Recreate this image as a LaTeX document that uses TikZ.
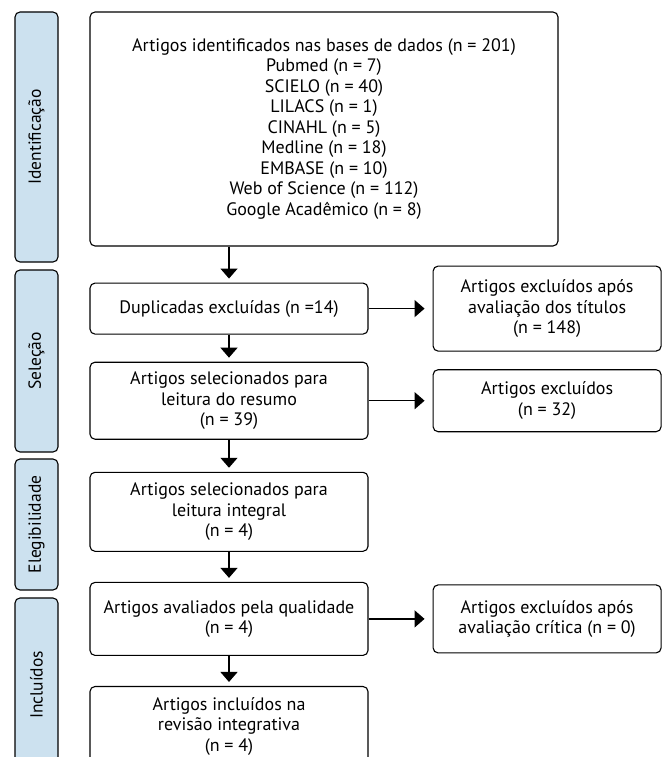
\documentclass[tikz,border=0pt]{standalone}
\usepackage{fontspec}
\setmainfont{PT Sans}
\usetikzlibrary{positioning,arrows.meta}
\definecolor{fasebg}{RGB}{204,225,239}

\begin{document}
\begin{tikzpicture}[x=1pt,y=-1pt,node distance=30pt,
   box/.style={draw, rounded corners=5pt, line width=1.1pt, align=center,
     inner sep=0pt, minimum width=278pt, font=\fontsize{18}{20.5}\selectfont},
   excl/.style={box, minimum width=228pt},
   fase/.style={draw, fill=fasebg, rounded corners=5pt, line width=1.1pt,
     rotate=90, minimum height=43pt, inner sep=0pt, font=\fontsize{17.5}{20}\selectfont},
   seta/.style={-{Triangle[width=17pt,length=10pt]}, line width=1.5pt, shorten >=4pt}]
   \useasboundingbox (0,0) rectangle (662,757);

   % fases
   \node[fase, minimum width=250pt] (ident) at (36.5,137)   {Identificação};
   \node[fase, minimum width=182pt] (selec) at (36.5,361)   {Seleção};
   \node[fase, minimum width=131pt] (elegi) at (36.5,524.5) {Elegibilidade};
   \node[fase, minimum width=174pt] (inclu) at (36.5,685)   {Incluídos};

   % coluna principal
   \node[box, minimum width=468pt, minimum height=234pt] (bases) at (324,129)
     {Artigos identificados nas bases de dados (n = 201)\\ Pubmed (n = 7)\\
      SCIELO (n = 40)\\ LILACS (n = 1)\\ CINAHL (n = 5)\\ Medline (n = 18)\\
      EMBASE (n = 10)\\ Web of Science (n = 112)\\ Google Acadêmico (n = 8)};
   \node[box, minimum height=51pt, below=36pt of bases.south west, anchor=north west] (dup)
     {Duplicadas excluídas (n =14)};
   \node[box, minimum height=77pt, below=27pt of dup] (resumo)
     {Artigos selecionados para\\ leitura do resumo\\ (n = 39)};
   \node[box, minimum height=79pt, below=32pt of resumo] (integral)
     {Artigos selecionados para\\ leitura integral\\ (n = 4)};
   \node[box, minimum height=73pt, below=of integral] (qualid)
     {Artigos avaliados pela qualidade\\ (n = 4)};
   \node[box, minimum height=79pt, below=of qualid] (incl)
     {Artigos incluídos na\\ revisão integrativa\\ (n = 4)};

   % excluidos
   \node[excl, minimum height=85pt, right=64pt of dup] (titulos)
     {Artigos excluídos após\\ avaliação dos títulos\\ (n = 148)};
   \node[excl, minimum height=62pt, right=64pt of resumo] (exres)
     {Artigos excluídos\\ (n = 32)};
   \node[excl, minimum height=68pt, right=64pt of qualid] (critica)
     {Artigos excluídos após\\ avaliação crítica (n = 0)};

   \draw[seta] (bases.south -| dup.north) -- (dup);
   \draw[seta] (dup) -- (resumo);
   \draw[seta] (resumo) -- (integral);
   \draw[seta] (integral) -- (qualid);
   \draw[seta] (qualid) -- (incl);
   \draw[seta, shorten >=8pt] (dup) -- (titulos);
   \draw[seta, shorten >=8pt] (resumo) -- (exres);
   \draw[seta, shorten >=8pt] (qualid) -- (critica);
\end{tikzpicture}
\end{document}
